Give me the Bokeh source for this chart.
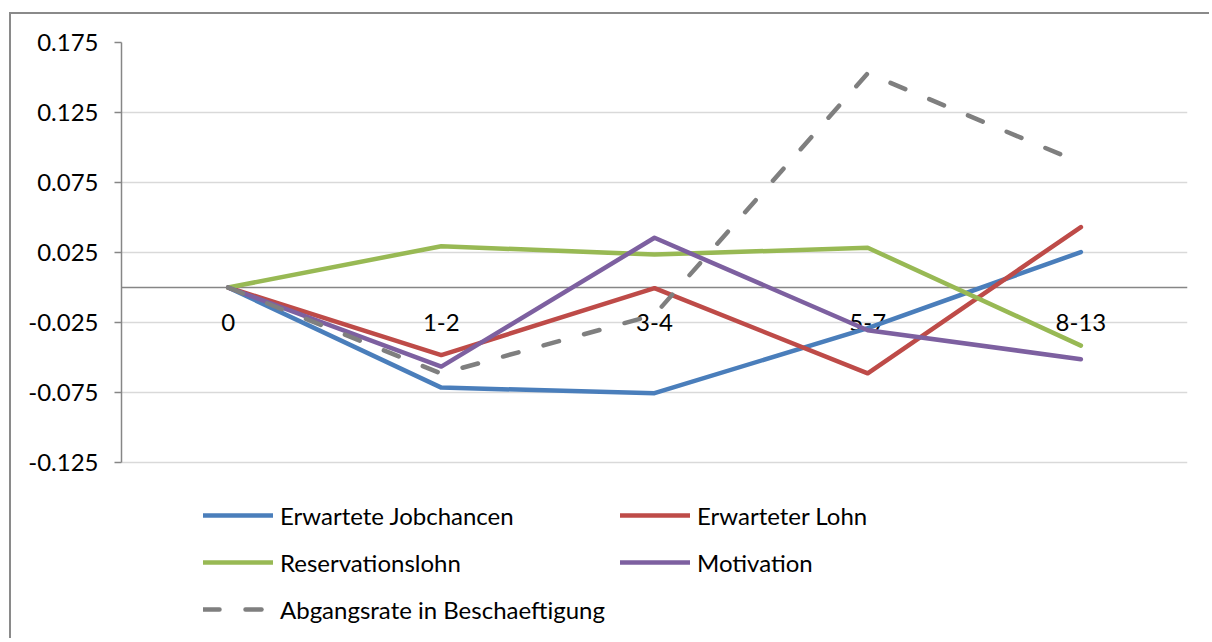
from bokeh.plotting import figure
from bokeh.models import (Range1d, FixedTicker, NumeralTickFormatter, Span, Legend,
                          LegendItem)
from bokeh.core.properties import value
from bokeh.embed import file_html
from bokeh.resources import INLINE

categories = ["0", "1-2", "3-4", "5-7", "8-13"]
jobchancen = [0.0, -0.0715, -0.0755, -0.029, 0.0253]
lohn = [0.0, -0.0483, -0.0005, -0.0613, 0.0432]
reservationslohn = [0.0, 0.0295, 0.0235, 0.0284, -0.0415]
motivation = [0.0, -0.0565, 0.0355, -0.0305, -0.0512]
abgangsrate = [0.0, -0.0615, -0.0195, 0.153, 0.089]
y_ticks = [-0.125, -0.075, -0.025, 0.025, 0.075, 0.125, 0.175]

series_names = ["Erwartete Jobchancen", "Erwarteter Lohn", "Reservationslohn",
                "Motivation", "Abgangsrate in Beschaeftigung"]
colors = ["#4A7EBB", "#BE4B48", "#98B954", "#7D60A0", "#7F7F7F"]

FONT = "Lato"
FS = "24px"
LW = 4.5
xs = list(range(len(categories)))

# frame: 420 px for the value axis span, extended downward to hold the legend
Y_TOP, Y_AX_BOTTOM = 0.175, -0.125
px_per_unit = 420 / (Y_TOP - Y_AX_BOTTOM)
frame_h = 626 - 28
y_start = Y_TOP - frame_h / px_per_unit

p = figure(width=1200, height=626, output_backend="svg", toolbar_location=None,
           x_range=Range1d(-0.5, 4.5), y_range=Range1d(y_start, Y_TOP),
           x_axis_type=None, min_border_left=110, min_border_right=24,
           min_border_top=28, min_border_bottom=0)
p.styles = {"margin-left": "9px", "margin-top": "12px",
            "border-left": "2px solid #8A8A8A", "border-top": "2px solid #8A8A8A"}
p.outline_line_color = None
p.xgrid.visible = False
p.ygrid.ticker = FixedTicker(ticks=y_ticks)
p.ygrid.grid_line_color = "#D9D9D9"
p.ygrid.grid_line_width = 1.5

ax = p.yaxis[0]
ax.bounds = (Y_AX_BOTTOM, Y_TOP)
ax.ticker = FixedTicker(ticks=y_ticks, minor_ticks=[])
ax.formatter = NumeralTickFormatter(format="0.000")
ax.axis_line_color = "#868686"
ax.axis_line_width = 1.5
ax.major_tick_line_color = "#868686"
ax.major_tick_line_width = 1.5
ax.major_tick_out = 7
ax.major_tick_in = 0
ax.minor_tick_line_color = None
ax.major_label_standoff = 16
ax.major_label_text_font = FONT
ax.major_label_text_font_size = FS
ax.major_label_text_color = "#000000"

zero = Span(location=0, dimension="width", line_color="#868686", line_width=1.5,
            level="underlay")
p.add_layout(zero)

# category labels along the zero line
p.text(x=xs, y=[0.0] * len(xs), text=categories, text_align="center",
       text_baseline="middle", y_offset=35, text_font=value(FONT),
       text_font_size=FS, text_color="#000000")

all_series = [jobchancen, lohn, reservationslohn, motivation, abgangsrate]
renderers = []
for name, vals, col in zip(series_names, all_series, colors):
    if name.startswith("Abgangsrate"):
        r = p.line(xs, vals, line_color=col, line_width=LW, line_dash="16 26",
                   line_cap="round", line_join="round")
    else:
        r = p.line(xs, vals, line_color=col, line_width=LW, line_join="round",
                   line_cap="round")
    renderers.append(r)


def make_legend(items, loc):
    return Legend(items=items, location=loc, orientation="vertical",
                  glyph_width=70, glyph_height=30, label_height=30, spacing=17,
                  label_standoff=7, padding=0, margin=0, border_line_color=None,
                  background_fill_alpha=0, label_text_font=FONT,
                  label_text_font_size=FS, label_text_color="#000000")


leg1 = make_legend([LegendItem(label=series_names[0], renderers=[renderers[0]]),
                    LegendItem(label=series_names[2], renderers=[renderers[2]]),
                    LegendItem(label=series_names[4], renderers=[renderers[4]])],
                   (82, 16))
leg2 = make_legend([LegendItem(label=series_names[1], renderers=[renderers[1]]),
                    LegendItem(label=series_names[3], renderers=[renderers[3]])],
                   (499, 63))
p.add_layout(leg1, "center")
p.add_layout(leg2, "center")

open("out.html", "w").write(file_html(p, INLINE))
